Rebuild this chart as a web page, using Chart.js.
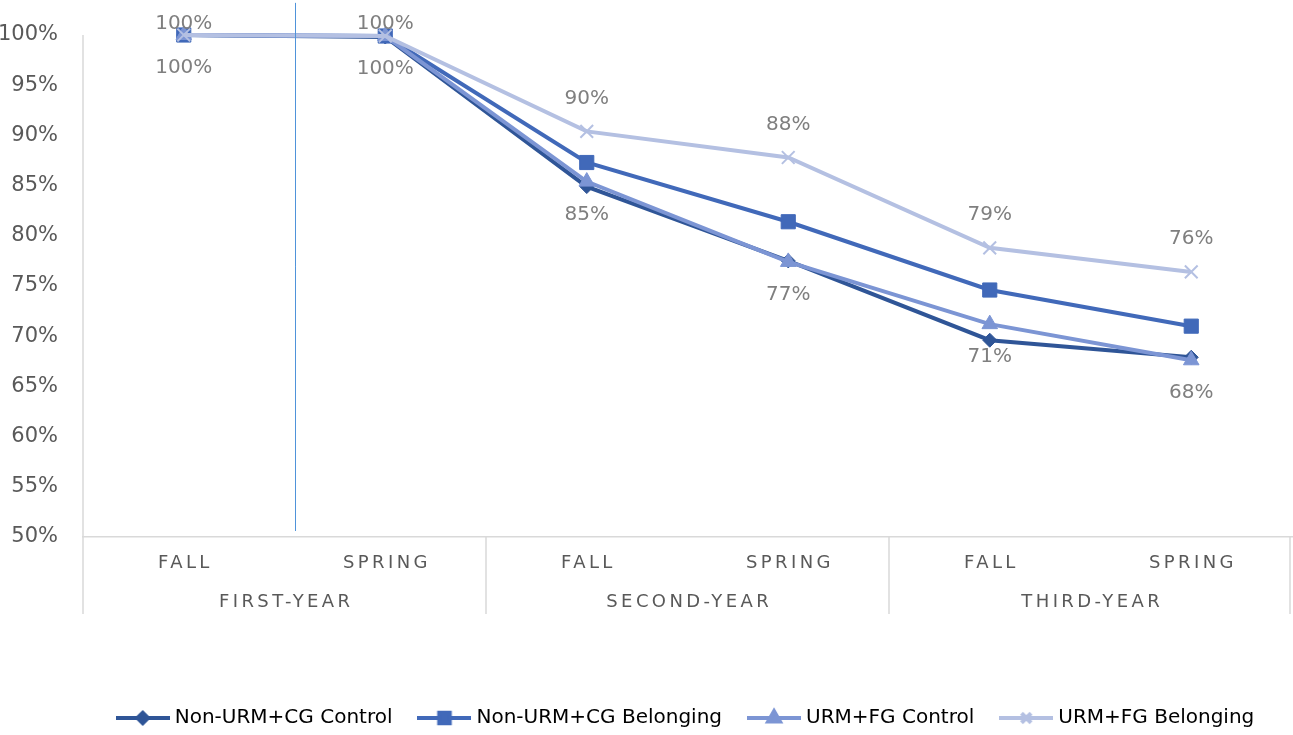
<!DOCTYPE html>
<html>
<head>
<meta charset="utf-8">
<script src="https://cdn.jsdelivr.net/npm/chart.js@4"></script>
<style>
  html, body { margin: 0; padding: 0; background: #fff; overflow: hidden; }
  #wrap { width: 1293px; height: 735px; position: relative; }
  canvas { display: block; }
</style>
</head>
<body>
<div id="wrap"><canvas id="c"></canvas></div>
<script>
// Retention by term, four groups.
const terms  = ["FALL", "SPRING", "FALL", "SPRING", "FALL", "SPRING"];
const years  = ["FIRST-YEAR", "SECOND-YEAR", "THIRD-YEAR"];
const yTicks = [50, 55, 60, 65, 70, 75, 80, 85, 90, 95, 100];

const nonUrmControl   = [100, 99.8, 84.9, 77.5, 69.6, 67.9];
const nonUrmBelonging = [100, 99.9, 87.3, 81.4, 74.6, 71.0];
const urmControl      = [100, 99.9, 85.4, 77.4, 71.2, 67.6];
const urmBelonging    = [100, 99.9, 90.4, 87.8, 78.8, 76.4];

const seriesNames = ["Non-URM+CG Control", "Non-URM+CG Belonging", "URM+FG Control", "URM+FG Belonging"];
const colors = ["#2F5597", "#4169B9", "#7C95D4", "#B4C0E2"];
const markers = ["rectRot", "rect", "triangle", "crossRot"];
const markerRadius = [7, 10, 9, 9];

// where the thin blue divider sits (category index) and its vertical span (in %)
const dividerAt = 0.55;
const dividerSpan = [103.2, 50.6];

const FONT = "'DejaVu Sans', sans-serif";
const GREY = "#595959";

// little line + marker swatch for the legend
function swatch(i) {
  const c = document.createElement("canvas");
  c.width = 54; c.height = 22;
  const g = c.getContext("2d");
  g.strokeStyle = colors[i]; g.fillStyle = colors[i];
  g.lineWidth = 4;
  g.beginPath(); g.moveTo(0, 11); g.lineTo(54, 11); g.stroke();
  Chart.helpers.drawPoint(g, {
    pointStyle: markers[i], radius: markerRadius[i] * 0.75, rotation: 0,
    borderWidth: i === 3 ? 2 : 1
  }, 27, 11);
  return c;
}

const groupPlugin = {
  id: "groups",
  afterDraw(chart) {
    const { ctx, chartArea } = chart;
    const x = chart.scales.x, y = chart.scales.y;
    const bottom = chartArea.bottom + 77;
    ctx.save();

    // divider line in the plot
    const dx = Math.round(x.getPixelForValue(dividerAt)) + 0.5;
    ctx.strokeStyle = "#4F93DA"; ctx.lineWidth = 1;
    ctx.beginPath();
    ctx.moveTo(dx, y.getPixelForValue(dividerSpan[0]));
    ctx.lineTo(dx, y.getPixelForValue(dividerSpan[1]));
    ctx.stroke();

    // y axis line + group separators
    ctx.strokeStyle = "#D9D9D9"; ctx.lineWidth = 1.5;
    ctx.beginPath(); ctx.moveTo(x.left, chartArea.top); ctx.lineTo(x.left, bottom); ctx.stroke();
    const edges = [];
    for (let g = 1; g < years.length; g++)
      edges.push((x.getPixelForTick(g * 2 - 1) + x.getPixelForTick(g * 2)) / 2);
    edges.push(x.right - 2);
    for (const e of edges) {
      ctx.beginPath(); ctx.moveTo(e, chartArea.bottom); ctx.lineTo(e, bottom); ctx.stroke();
    }

    // spaced category labels
    ctx.fillStyle = GREY;
    ctx.font = "18px " + FONT;
    ctx.textAlign = "center"; ctx.textBaseline = "middle";
    ctx.letterSpacing = "3.4px";
    terms.forEach((t, i) => ctx.fillText(t, x.getPixelForTick(i) + 1.7, chartArea.bottom + 26));
    years.forEach((t, i) => {
      const cx = (x.getPixelForTick(i * 2) + x.getPixelForTick(i * 2 + 1)) / 2;
      ctx.fillText(t, cx + 1.7, chartArea.bottom + 65);
    });
    ctx.letterSpacing = "0px";

    // data labels for the two URM+FG series
    ctx.fillStyle = "#7F7F7F";
    ctx.font = "20px " + FONT;
    [[2, 33], [3, -33]].forEach(([di, off]) => {
      const meta = chart.getDatasetMeta(di);
      meta.data.forEach((pt, i) => {
        const v = chart.data.datasets[di].data[i];
        const ly = Math.max(24, pt.y + off);
        ctx.fillText(Math.round(v) + "%", pt.x, ly);
      });
    });
    ctx.restore();
  }
};

const seriesData = [nonUrmControl, nonUrmBelonging, urmControl, urmBelonging];

new Chart(document.getElementById("c"), {
  type: "line",
  data: {
    labels: terms,
    datasets: seriesData.map((d, i) => ({
      label: seriesNames[i],
      data: d,
      borderColor: colors[i],
      backgroundColor: colors[i],
      borderWidth: 4,
      pointStyle: markers[i],
      pointRadius: markerRadius[i],
      pointBorderWidth: i === 3 ? 2 : 1,
      pointBorderColor: colors[i],
      pointBackgroundColor: colors[i],
      tension: 0,
      clip: false,
      order: 4 - i,
    })),
  },
  options: {
    responsive: true,
    maintainAspectRatio: false,
    animation: false,
    layout: { autoPadding: false, padding: { top: 35, right: 1, left: 0, bottom: -3 } },
    plugins: {
      tooltip: { enabled: false },
      legend: {
        position: "bottom",
        fullSize: false,
        labels: {
          usePointStyle: true,
          pointStyleWidth: 44,
          padding: 30,
          color: GREY,
          font: { family: FONT, size: 20 },
          generateLabels: () => seriesNames.map((n, i) => ({
            text: n, pointStyle: swatch(i), fillStyle: colors[i],
            strokeStyle: colors[i], lineWidth: 0, datasetIndex: i,
          })),
        },
      },
    },
    scales: {
      x: {
        offset: true,
        grid: { display: false },
        border: { display: true, color: "#D9D9D9", width: 1.5 },
        ticks: { display: false },
        afterFit: (s) => { s.height = 141; },
      },
      y: {
        min: 50, max: 100,
        afterBuildTicks: (s) => { s.ticks = yTicks.map((v) => ({ value: v })); },
        grid: { display: false },
        border: { display: false },
        ticks: {
          padding: 17,
          color: GREY,
          font: { family: FONT, size: 21 },
          callback: (v) => v + "%",
        },
        afterFit: (s) => { s.width = 83; },
      },
    },
  },
  plugins: [groupPlugin],
});
</script>
</body>
</html>
